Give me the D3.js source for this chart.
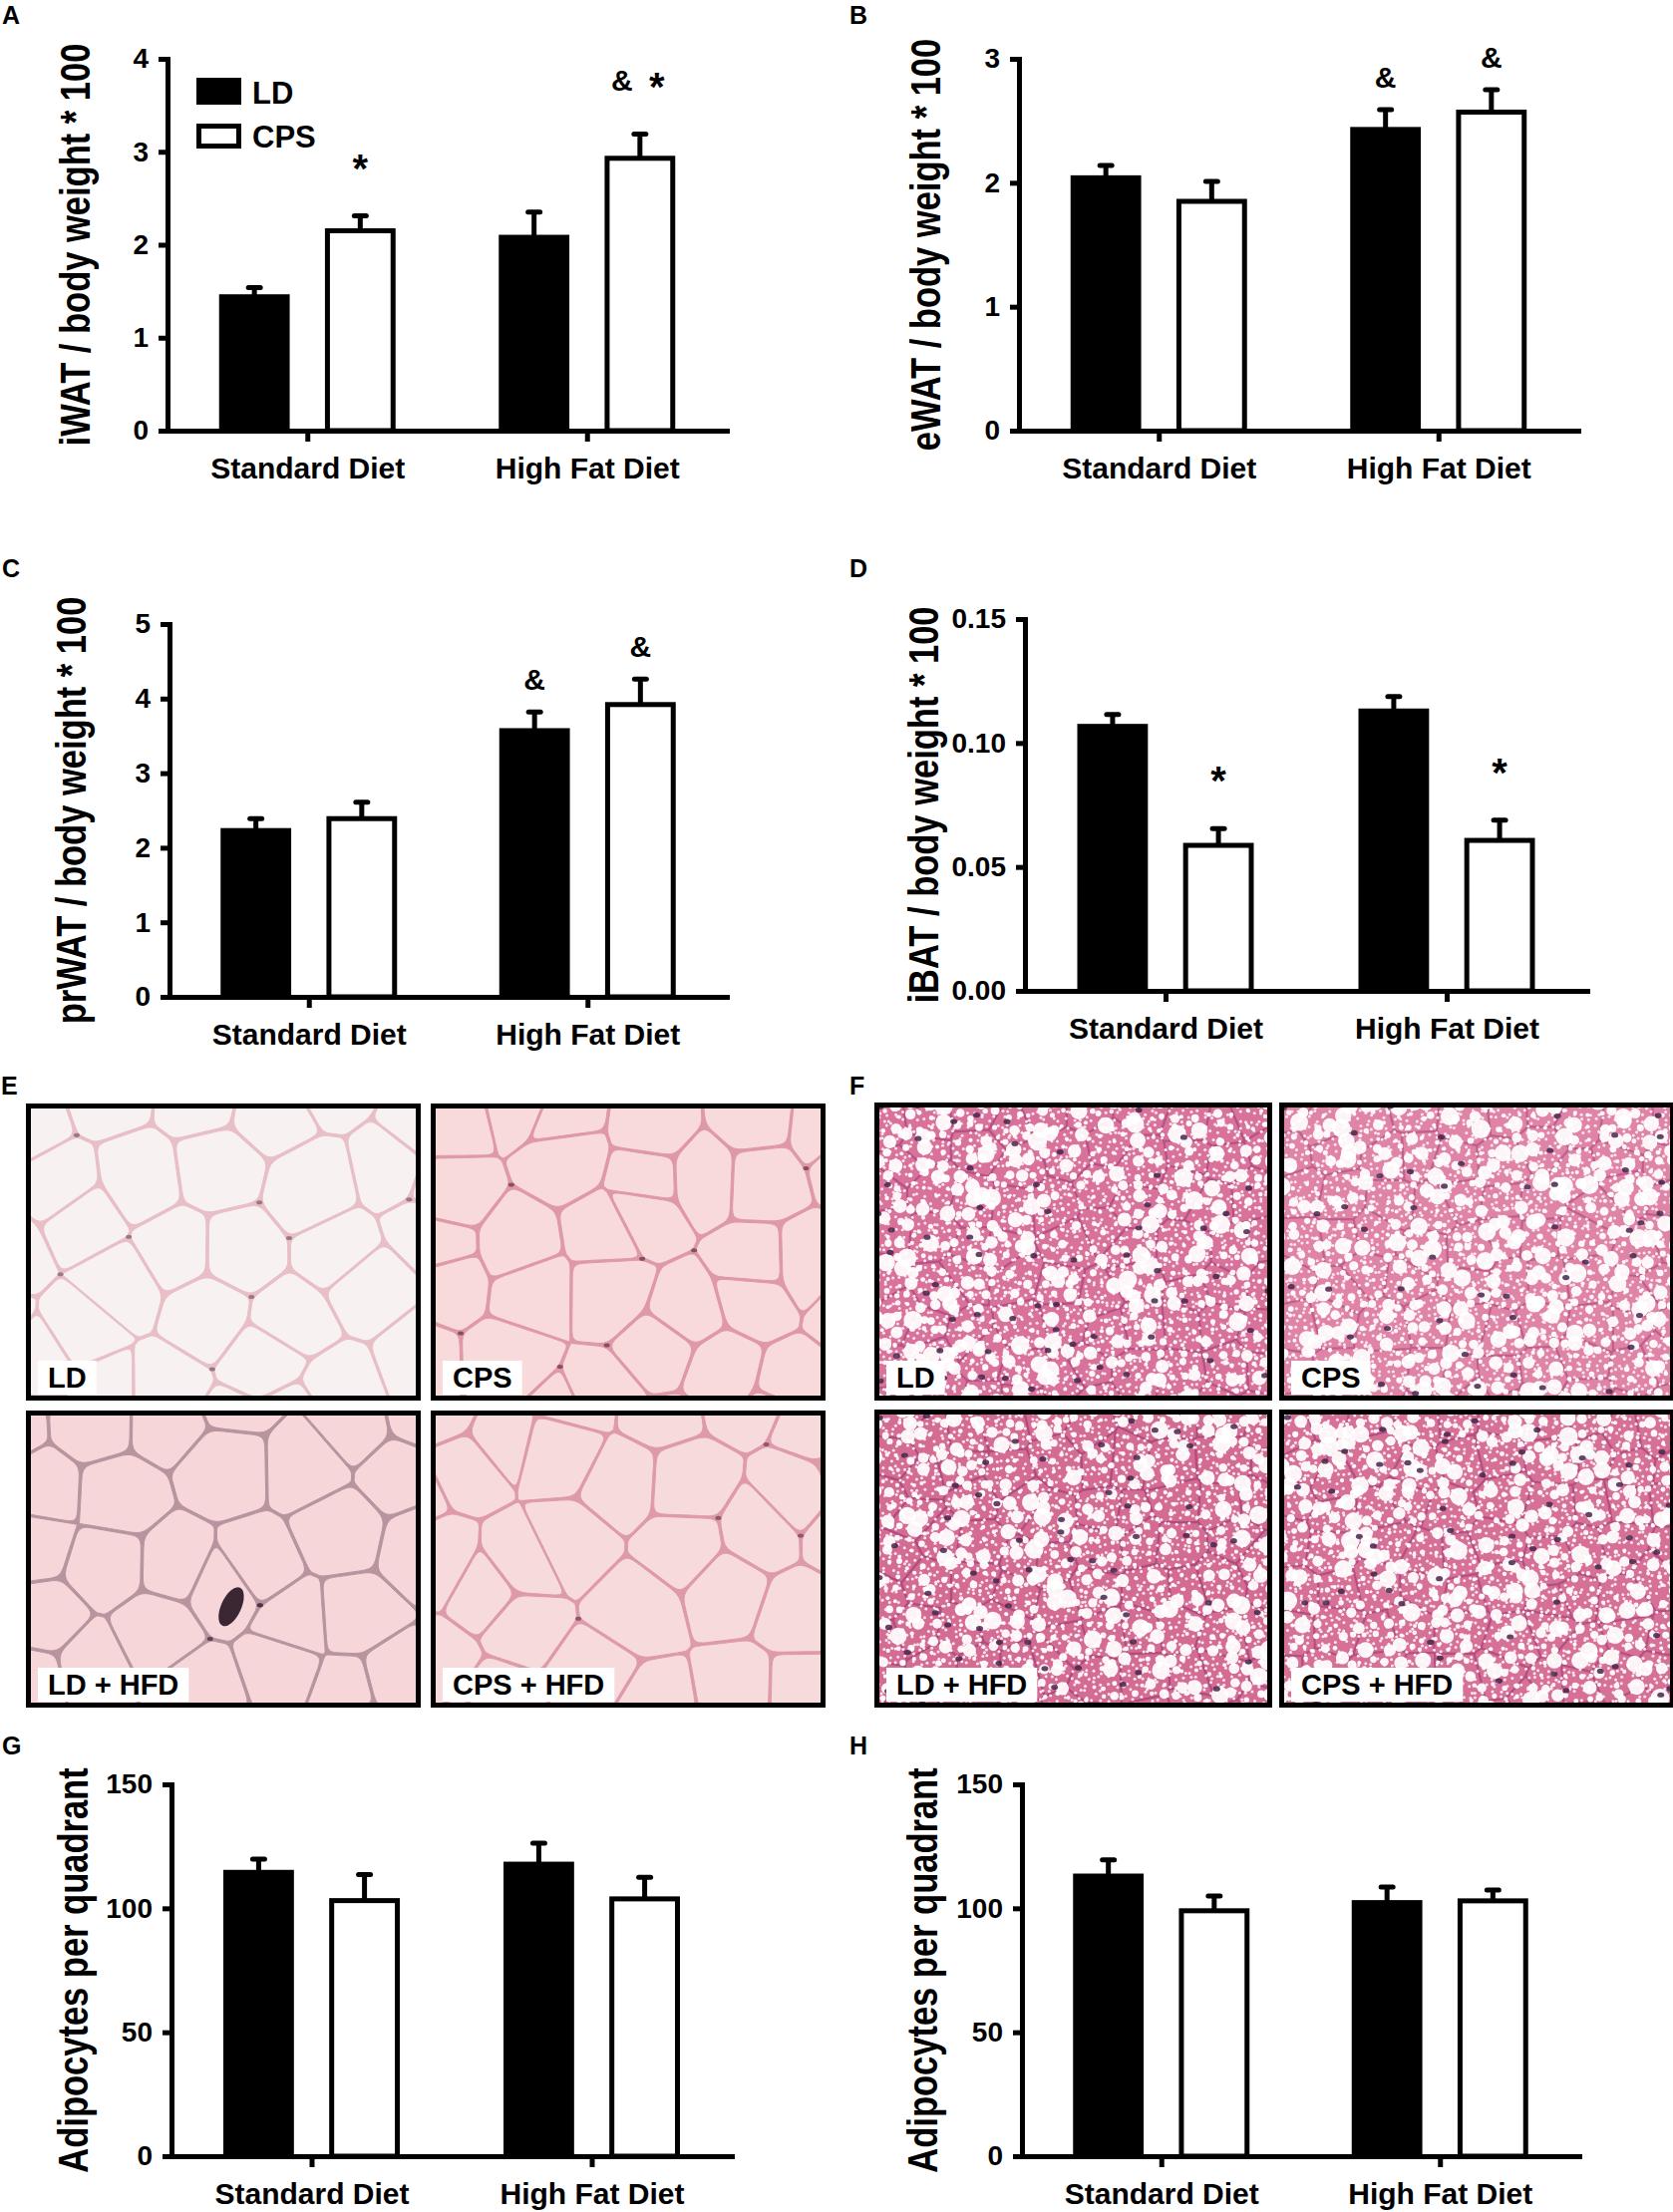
<!DOCTYPE html>
<html>
<head>
<meta charset="utf-8">
<script src="https://cdn.jsdelivr.net/npm/d3@7"></script>
<style>
  body { margin: 0; background: #fff; }
  svg { display: block; font-family: "Liberation Sans", Arial, Helvetica, sans-serif; font-weight: bold; }
</style>
</head>
<body>
<div id="fig"></div>
<script>
// ---- data ----
const diets = ["Standard Diet", "High Fat Diet"];
const groups = ["LD", "CPS"];

const iwatLD = [1.44, 2.08];
const iwatLDSem = [0.10, 0.27];
const iwatCPS = [2.15, 2.93];
const iwatCPSSem = [0.16, 0.26];
const iwatTicks = [0, 1, 2, 3, 4];

const ewatLD = [2.04, 2.43];
const ewatLDSem = [0.10, 0.16];
const ewatCPS = [1.85, 2.57];
const ewatCPSSem = [0.16, 0.18];
const ewatTicks = [0, 1, 2, 3];

const prwatLD = [2.23, 3.57];
const prwatLDSem = [0.16, 0.25];
const prwatCPS = [2.39, 3.92];
const prwatCPSSem = [0.22, 0.34];
const prwatTicks = [0, 1, 2, 3, 4, 5];

const ibatLD = [0.1067, 0.1129];
const ibatLDSem = [0.0048, 0.0058];
const ibatCPS = [0.0587, 0.0607];
const ibatCPSSem = [0.0067, 0.0082];
const ibatTicks = [0, 0.05, 0.10, 0.15];

const adipoWatLD = [114.5, 117.8];
const adipoWatLDSem = [5.3, 8.5];
const adipoWatCPS = [103.1, 103.8];
const adipoWatCPSSem = [10.5, 8.7];

const adipoBatLD = [113.0, 102.3];
const adipoBatLDSem = [6.5, 6.3];
const adipoBatCPS = [99.0, 103.0];
const adipoBatCPSSem = [6.0, 4.4];
const adipoTicks = [0, 50, 100, 150];

const iwatMarks = [
  { diet: "Standard Diet", group: "CPS", symbols: ["*"] },
  { diet: "High Fat Diet", group: "CPS", symbols: ["&", "*"] }
];
const hfdMarks = [
  { diet: "High Fat Diet", group: "LD", symbols: ["&"] },
  { diet: "High Fat Diet", group: "CPS", symbols: ["&"] }
];
const ibatMarks = [
  { diet: "Standard Diet", group: "CPS", symbols: ["*"] },
  { diet: "High Fat Diet", group: "CPS", symbols: ["*"] }
];

const photoLabels = ["LD", "CPS", "LD + HFD", "CPS + HFD"];

// ---- layout ----
const W = 1678, H = 2219;
const svg = d3.select("#fig").append("svg").attr("width", W).attr("height", H);
const defs = svg.append("defs");

const panels = [
  { letter: "A", lx: 2, ly: 24, x0: 168, len: 561, y0: 432, yTop: 59, domain: [0, 4], ticks: iwatTicks, fmt: d3.format("d"),
    title: "iWAT / body weight * 100", titleX: 75, ld: iwatLD, ldSem: iwatLDSem, cps: iwatCPS, cpsSem: iwatCPSSem, marks: iwatMarks, legend: true },
  { letter: "B", lx: 852, ly: 24, x0: 1022, len: 561, y0: 432, yTop: 59, domain: [0, 3], ticks: ewatTicks, fmt: d3.format("d"),
    title: "eWAT / body weight * 100", titleX: 928, ld: ewatLD, ldSem: ewatLDSem, cps: ewatCPS, cpsSem: ewatCPSSem, marks: hfdMarks },
  { letter: "C", lx: 2, ly: 579, x0: 170, len: 559, y0: 1000, yTop: 626, domain: [0, 5], ticks: prwatTicks, fmt: d3.format("d"),
    title: "prWAT / body weight * 100", titleX: 71, ld: prwatLD, ldSem: prwatLDSem, cps: prwatCPS, cpsSem: prwatCPSSem, marks: hfdMarks },
  { letter: "D", lx: 852, ly: 579, x0: 1028, len: 564, y0: 994, yTop: 621, domain: [0, 0.15], ticks: ibatTicks, fmt: d3.format(".2f"),
    title: "iBAT / body weight * 100", titleX: 926, ld: ibatLD, ldSem: ibatLDSem, cps: ibatCPS, cpsSem: ibatCPSSem, marks: ibatMarks },
  { letter: "G", lx: 2, ly: 1760, x0: 172, len: 562, y0: 2163, yTop: 1790, domain: [0, 150], ticks: adipoTicks, fmt: d3.format("d"),
    title: "Adipocytes per quadrant", titleX: 73, ld: adipoWatLD, ldSem: adipoWatLDSem, cps: adipoWatCPS, cpsSem: adipoWatCPSSem, marks: [] },
  { letter: "H", lx: 852, ly: 1760, x0: 1025, len: 559, y0: 2163, yTop: 1790, domain: [0, 150], ticks: adipoTicks, fmt: d3.format("d"),
    title: "Adipocytes per quadrant", titleX: 925, ld: adipoBatLD, ldSem: adipoBatLDSem, cps: adipoBatCPS, cpsSem: adipoBatCPSSem, marks: [] }
];

panels.forEach(drawBarPanel);

function drawBarPanel(p) {
  const g = svg.append("g");

  const x = d3.scalePoint().domain(diets).range([p.x0, p.x0 + p.len]).padding(0.5);
  const xs = d3.scaleBand().domain(groups).range([-86, 86]).paddingInner(0.38);
  const y = d3.scaleLinear().domain(p.domain).range([p.y0, p.yTop]);
  const bw = xs.bandwidth();

  const rows = [];
  diets.forEach((d, i) => {
    rows.push({ diet: d, group: "LD", mean: p.ld[i], sem: p.ldSem[i] });
    rows.push({ diet: d, group: "CPS", mean: p.cps[i], sem: p.cpsSem[i] });
  });
  const cx = (d) => x(d.diet) + xs(d.group) + bw / 2;

  // error bars (upper only)
  g.selectAll(".err")
    .data(rows)
    .join("line")
    .attr("x1", cx).attr("x2", cx)
    .attr("y1", (d) => y(d.mean))
    .attr("y2", (d) => y(d.mean + d.sem))
    .attr("stroke", "#000").attr("stroke-width", 5);

  g.selectAll(".cap")
    .data(rows)
    .join("line")
    .attr("x1", (d) => cx(d) - 6).attr("x2", (d) => cx(d) + 6)
    .attr("y1", (d) => y(d.mean + d.sem))
    .attr("y2", (d) => y(d.mean + d.sem))
    .attr("stroke", "#000").attr("stroke-width", 5).attr("stroke-linecap", "round");

  g.selectAll(".bar")
    .data(rows)
    .join("rect")
    .attr("x", (d) => x(d.diet) + xs(d.group))
    .attr("y", (d) => y(d.mean))
    .attr("width", bw)
    .attr("height", (d) => y(0) - y(d.mean))
    .attr("fill", (d) => (d.group === "LD" ? "#000" : "#fff"))
    .attr("stroke", "#000")
    .attr("stroke-width", 5);

  // axes
  const yAxis = g.append("g")
    .attr("transform", `translate(${p.x0},0)`)
    .call(d3.axisLeft(y).tickValues(p.ticks).tickFormat(p.fmt).tickSize(9).tickSizeOuter(0).tickPadding(10));
  const xAxis = g.append("g")
    .attr("transform", `translate(0,${p.y0})`)
    .call(d3.axisBottom(x).tickSize(11).tickSizeOuter(0).tickPadding(16));

  [yAxis, xAxis].forEach((a) => {
    a.select(".domain").attr("stroke", "#000").attr("stroke-width", 5).attr("stroke-linecap", "square");
    a.selectAll(".tick line").attr("stroke", "#000").attr("stroke-width", 5);
    a.selectAll("text").attr("fill", "#000").style("font-family", "inherit").style("font-weight", "bold");
  });
  yAxis.selectAll("text").style("font-size", "28px");
  xAxis.selectAll("text").style("font-size", "30px");

  // y title (slightly stretched across, like the source figure)
  g.append("text")
    .attr("transform", `translate(${p.titleX},${(p.y0 + p.yTop) / 2}) scale(1.25,1) rotate(-90)`)
    .attr("text-anchor", "middle")
    .attr("dominant-baseline", "central")
    .style("font-size", "34.5px")
    .text(p.title);

  // panel letter
  svg.append("text").attr("x", p.lx).attr("y", p.ly).style("font-size", "25px").text(p.letter);

  // significance marks
  p.marks.forEach((m) => {
    const v = m.diet === diets[0] ? 0 : 1;
    const mean = m.group === "LD" ? p.ld[v] : p.cps[v];
    const sem = m.group === "LD" ? p.ldSem[v] : p.cpsSem[v];
    const bx = x(m.diet) + xs(m.group) + bw / 2;
    const hasStar = m.symbols.includes("*");
    const cy = y(mean + sem) - (hasStar ? 55 : 33);
    m.symbols.forEach((s, i) => {
      const dx = m.symbols.length > 1 ? (i === 0 ? -18 : 17) : 0;
      g.append("text")
        .attr("x", bx + dx)
        .attr("y", s === "*" ? cy + 21 : cy + 11)
        .attr("text-anchor", "middle")
        .style("font-size", s === "*" ? "40px" : "30px")
        .text(s);
    });
  });

  if (p.legend) {
    const lx = p.x0 + 29, ly = p.yTop + 19;
    g.append("rect").attr("x", lx).attr("y", ly).attr("width", 45).attr("height", 27).attr("fill", "#000");
    g.append("rect").attr("x", lx + 2.5).attr("y", ly + 48.5).attr("width", 40).attr("height", 20)
      .attr("fill", "#fff").attr("stroke", "#000").attr("stroke-width", 5);
    g.append("text").attr("x", lx + 56).attr("y", ly + 26).style("font-size", "31px").text(groups[0]);
    g.append("text").attr("x", lx + 56).attr("y", ly + 70).style("font-size", "31px").text(groups[1]);
  }
}

// ---- micrograph panels (texture only, approximating the photographs) ----
function hash(a, b, c) {
  const s = Math.sin(a * 127.1 + b * 311.7 + c * 74.7) * 43758.5453;
  return s - Math.floor(s);
}

const adiposeStyles = [
  { fill: "#f7f1f1", wall: "#e8bfc6", dot: "#8a6470" },
  { fill: "#f8dadb", wall: "#df98a7", dot: "#6e3f52" },
  { fill: "#f6d6d8", wall: "#b8949f", dot: "#4a3040" },
  { fill: "#f7dbdc", wall: "#de9aa8", dot: "#7a4658" }
];
const liverStyles = [
  { bg: "#d8729a", net: "#a9427a" },
  { bg: "#e084a7", net: "#b2507f" },
  { bg: "#d36b93", net: "#a33d74" },
  { bg: "#d67096", net: "#a64077" }
];

const eBoxes = [
  { x: 26, y: 1107, w: 396, h: 298 }, { x: 432, y: 1107, w: 396, h: 298 },
  { x: 26, y: 1415, w: 396, h: 298 }, { x: 432, y: 1415, w: 396, h: 298 }
];
const fBoxes = [
  { x: 877, y: 1106, w: 399, h: 299 }, { x: 1283, y: 1106, w: 397, h: 299 },
  { x: 877, y: 1414, w: 399, h: 299 }, { x: 1283, y: 1414, w: 397, h: 299 }
];

svg.append("text").attr("x", 1).attr("y", 1098).style("font-size", "25px").text("E");
svg.append("text").attr("x", 852).attr("y", 1098).style("font-size", "25px").text("F");

eBoxes.forEach((b, i) => drawPhoto(b, "e" + i, (g) => adipose(g, b, adiposeStyles[i], i + 1, i === 2), photoLabels[i]));
fBoxes.forEach((b, i) => drawPhoto(b, "f" + i, (g) => liver(g, b, liverStyles[i], i + 11), photoLabels[i]));

function drawPhoto(b, id, paint, label) {
  defs.append("clipPath").attr("id", "clip-" + id)
    .append("rect").attr("x", b.x).attr("y", b.y).attr("width", b.w).attr("height", b.h);
  const g = svg.append("g").attr("clip-path", `url(#clip-${id})`);
  paint(g);

  const t = svg.append("text")
    .attr("x", b.x + 22).attr("y", b.y + b.h - 13)
    .style("font-size", "29px").text(label);
  const tw = t.node().getComputedTextLength();
  svg.insert("rect", () => t.node())
    .attr("x", b.x + 12).attr("y", b.y + b.h - 40)
    .attr("width", tw + 20).attr("height", 34).attr("fill", "#fff");

  svg.append("rect")
    .attr("x", b.x + 2.5).attr("y", b.y + 2.5)
    .attr("width", b.w - 5).attr("height", b.h - 5)
    .attr("fill", "none").attr("stroke", "#000").attr("stroke-width", 5);
}

function adipose(g, b, st, seed, blob) {
  const step = 78;
  const pts = [];
  for (let r = -1; r * step * 0.87 < b.h + step; r++) {
    for (let c = -1; c * step < b.w + step; c++) {
      pts.push([
        b.x + c * step + (r % 2 ? step / 2 : 0) + (hash(r, c, seed) - 0.5) * step * 0.7,
        b.y + r * step * 0.87 + (hash(c, r, seed + 7) - 0.5) * step * 0.7
      ]);
    }
  }
  const vor = d3.Delaunay.from(pts).voronoi([b.x - step, b.y - step, b.x + b.w + step, b.y + b.h + step]);
  g.append("rect").attr("x", b.x).attr("y", b.y).attr("width", b.w).attr("height", b.h).attr("fill", st.wall);

  const line = d3.line().curve(d3.curveBasisClosed);
  const cells = [];
  pts.forEach((pt, i) => {
    const poly = vor.cellPolygon(i);
    if (!poly) return;
    poly.pop();
    const ctrl = [];
    poly.forEach((v, k) => {
      const n = poly[(k + 1) % poly.length];
      const len = Math.hypot(n[0] - v[0], n[1] - v[1]) || 1;
      const f = Math.min(0.33, 16 / len);
      ctrl.push(v,
        [v[0] + (n[0] - v[0]) * f, v[1] + (n[1] - v[1]) * f],
        [n[0] - (n[0] - v[0]) * f, n[1] - (n[1] - v[1]) * f]);
    });
    // pull the outline slightly inward so a thin wall remains
    const c = d3.polygonCentroid(poly);
    const inset = ctrl.map((q) => {
      const dx = q[0] - c[0], dy = q[1] - c[1], dd = Math.hypot(dx, dy) || 1;
      return [q[0] - dx / dd * 1.4, q[1] - dy / dd * 1.4];
    });
    cells.push({ d: line(inset), v: poly[0], h: hash(i, seed, 3) });
  });

  g.selectAll(".cell").data(cells).join("path")
    .attr("d", (d) => d.d)
    .attr("fill", st.fill)
    .attr("stroke", st.wall).attr("stroke-width", 1);

  g.selectAll(".nuc").data(cells.filter((d) => d.h < 0.2)).join("ellipse")
    .attr("cx", (d) => d.v[0]).attr("cy", (d) => d.v[1])
    .attr("rx", 3).attr("ry", 2).attr("fill", st.dot).attr("opacity", 0.8);

  if (blob) {
    g.append("ellipse")
      .attr("transform", `translate(${b.x + b.w * 0.52},${b.y + b.h * 0.66}) rotate(25)`)
      .attr("rx", 10).attr("ry", 21).attr("fill", "#3b2634");
  }
}

function liver(g, b, st, seed) {
  g.append("rect").attr("x", b.x).attr("y", b.y).attr("width", b.w).attr("height", b.h).attr("fill", st.bg);

  const net = [];
  for (let r = 0; r * 42 < b.h + 42; r++) {
    for (let c = 0; c * 42 < b.w + 42; c++) {
      net.push([b.x + c * 42 + hash(r, c, seed) * 30, b.y + r * 42 + hash(c, r, seed + 2) * 30]);
    }
  }
  const vor = d3.Delaunay.from(net).voronoi([b.x - 40, b.y - 40, b.x + b.w + 40, b.y + b.h + 40]);
  g.append("path").attr("d", vor.render()).attr("fill", "none")
    .attr("stroke", st.net).attr("stroke-width", 2.2).attr("opacity", 0.7);

  const tiny = [];
  for (let r = 0; r * 7 < b.h; r++) {
    for (let c = 0; c * 7 < b.w; c++) {
      tiny.push([b.x + c * 7 + hash(r, c, seed + 4) * 6, b.y + r * 7 + hash(c, r, seed + 5) * 6]);
    }
  }
  g.selectAll(".tiny").data(tiny).join("circle")
    .attr("cx", (d) => d[0]).attr("cy", (d) => d[1]).attr("r", 1.5)
    .attr("fill", "#fbe6ee");

  const vac = [];
  for (let r = 0; r * 12 < b.h + 12; r++) {
    for (let c = 0; c * 12 < b.w + 12; c++) {
      const h = hash(r, c, seed + 6);
      vac.push({
        x: b.x + c * 12 + (hash(c, r, seed + 8) - 0.5) * 9,
        y: b.y + r * 12 + (hash(r + 3, c, seed + 9) - 0.5) * 9,
        r: 2 + 7.5 * Math.pow(h, 3)
      });
    }
  }
  g.selectAll(".vac").data(vac).join("circle")
    .attr("cx", (d) => d.x).attr("cy", (d) => d.y).attr("r", (d) => d.r)
    .attr("fill", "#fff").attr("opacity", 0.93);

  const nuc = [];
  for (let r = 0; r * 30 < b.h; r++) {
    for (let c = 0; c * 30 < b.w; c++) {
      if (hash(r, c, seed + 12) < 0.45) {
        nuc.push([b.x + c * 30 + hash(c, r, seed + 13) * 26, b.y + r * 30 + hash(r, c, seed + 14) * 26]);
      }
    }
  }
  g.selectAll(".nuc").data(nuc).join("ellipse")
    .attr("cx", (d) => d[0]).attr("cy", (d) => d[1]).attr("rx", 3.5).attr("ry", 2.6)
    .attr("fill", "#45264c").attr("opacity", 0.85);
}
</script>
</body>
</html>
